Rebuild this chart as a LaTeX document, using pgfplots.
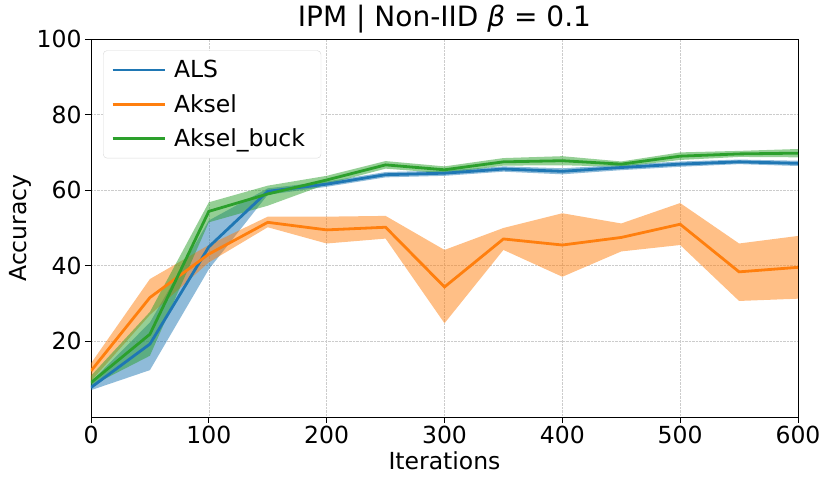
\documentclass[border=0pt]{standalone}
\usepackage{pgfplots}
\pgfplotsset{compat=1.18}
\usepackage{pgfplotstable}
\usepgfplotslibrary{fillbetween}
\usepackage{fontspec}
\setmainfont{DejaVu Sans}
\definecolor{tabblue}{HTML}{1F77B4}
\definecolor{taborange}{HTML}{FF7F0E}
\definecolor{tabgreen}{HTML}{2CA02C}

\pgfplotstableread{
x m lo hi
0 7.8 7.1 9.3
50 19.3 12.4 25.0
100 45.0 39.1 52.0
150 59.7 58.8 60.5
200 61.6 60.9 62.3
250 64.1 63.4 64.8
300 64.5 63.8 65.2
350 65.6 64.9 66.3
400 65.0 64.2 65.8
450 66.0 65.3 66.7
500 66.9 66.2 67.6
550 67.5 66.9 68.1
600 67.1 66.4 67.8
}\als
\pgfplotstableread{
x m lo hi
0 12.2 9.5 14.2
50 31.6 27.0 36.5
100 43.1 40.9 45.5
150 51.5 50.2 53.0
200 49.5 45.9 53.0
250 50.2 47.2 53.2
300 34.4 24.8 44.2
350 47.1 44.2 50.0
400 45.5 37.1 53.9
450 47.5 43.8 51.2
500 51.0 45.5 56.6
550 38.4 30.7 45.9
600 39.6 31.3 47.9
}\aksel
\pgfplotstableread{
x m lo hi
0 9.1 8.2 10.9
50 21.9 16.2 27.8
100 54.4 51.5 56.8
150 59.0 55.9 61.2
200 62.7 61.6 63.8
250 66.7 65.7 67.7
300 65.4 64.5 66.3
350 67.5 66.5 68.5
400 67.8 66.6 69.0
450 66.9 66.2 67.6
500 69.0 68.0 70.0
550 69.6 68.8 70.4
600 69.8 68.7 70.9
}\buck

\begin{document}
\begin{tikzpicture}
\begin{axis}[
  scale only axis,
  width=707pt, height=378pt,
  xmin=0, xmax=600, ymin=0, ymax=100,
  xtick={0,100,...,600},
  ytick={20,40,...,100},
  tick align=outside,
  xtick pos=left, ytick pos=left,
  major tick length=6pt,
  tick style={black, line width=0.9pt},
  axis line style={black, line width=0.9pt},
  grid=major,
  major grid style={densely dotted, gray!40, line width=0.6pt},
  /pgf/number format/assume math mode=true,
  ticklabel style={font=\fontsize{23.5}{28}\selectfont},
  xlabel={Iterations},
  ylabel={Accuracy},
  label style={font=\fontsize{23.5}{28}\selectfont},
  xlabel style={yshift=0pt},
  ylabel style={yshift=-2pt},
  title={IPM | Non-IID \textit{β} = 0.1},
  title style={font=\fontsize{28}{33}\selectfont, yshift=-4pt},
  legend style={at={(0.017,0.97)}, anchor=north west, draw=gray!30,
    rounded corners=4pt, fill=white,
    font=\fontsize{23.5}{28}\selectfont, row sep=11pt, inner xsep=8pt, inner ysep=8pt,
    nodes={inner xsep=8pt}},
  legend cell align=left,
  legend image code/.code={\draw[#1, line width=2.8pt] (-8pt,0pt) -- (44pt,0pt);},
]
% bands
\addplot[draw=none, name path=aU, forget plot] table[x=x,y=hi]{\als};
\addplot[draw=none, name path=aL, forget plot] table[x=x,y=lo]{\als};
\addplot[fill=tabblue, fill opacity=0.5, draw=none, forget plot] fill between[of=aU and aL];
\addplot[draw=none, name path=kU, forget plot] table[x=x,y=hi]{\aksel};
\addplot[draw=none, name path=kL, forget plot] table[x=x,y=lo]{\aksel};
\addplot[fill=taborange, fill opacity=0.5, draw=none, forget plot] fill between[of=kU and kL];
\addplot[draw=none, name path=bU, forget plot] table[x=x,y=hi]{\buck};
\addplot[draw=none, name path=bL, forget plot] table[x=x,y=lo]{\buck};
\addplot[fill=tabgreen, fill opacity=0.5, draw=none, forget plot] fill between[of=bU and bL];
% means
\addplot[tabblue, line width=2.8pt, mark=none] table[x=x,y=m]{\als};
\addlegendentry{ALS}
\addplot[taborange, line width=2.8pt, mark=none] table[x=x,y=m]{\aksel};
\addlegendentry{Aksel}
\addplot[tabgreen, line width=2.8pt, mark=none] table[x=x,y=m]{\buck};
\addlegendentry{Aksel\_buck}
\end{axis}
\pgfresetboundingbox
\path (-91pt,-68pt) rectangle (740pt,417pt);
\end{tikzpicture}
\end{document}
